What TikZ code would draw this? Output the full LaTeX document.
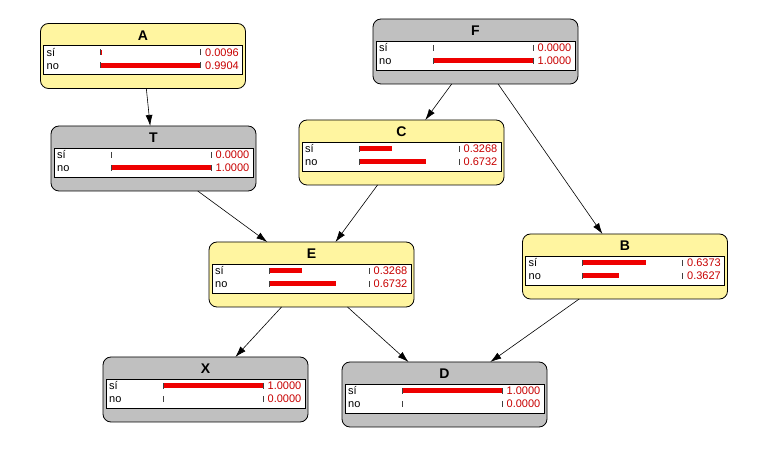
\documentclass[tikz,border=0pt]{standalone}
\usepackage{fontspec}
\setmainfont{Liberation Sans}
\usepackage{tikz}
\usetikzlibrary{arrows.meta}

\definecolor{cptyellow}{RGB}{255,245,160}
\definecolor{cptgray}{RGB}{192,192,192}
\definecolor{cptred}{RGB}{238,0,0}
\definecolor{cptnum}{RGB}{200,0,0}

% one node of the network: name, x, y, fill, title, p(si), p(no)
\newcommand{\cptnode}[7]{%
  \node[cptbox, fill=#4] (#1) at (#2,#3) {};
  \begin{scope}[shift={(#1.north west)}]
    \node[cpttitle] (#1-name) at (102.5,12) {#5};
    \draw[cptpanel] (3,22) rectangle (202,51);
    \node[cptlabel] (#1-si) at (6,29) {sí};
    \node[cptlabel] (#1-no) at (6,42) {no};
    \draw[cptbar] (60,29) -- ++({#6*100},0);
    \draw[cptbar] (60,42) -- ++({#7*100},0);
    \draw[cpttick] (60,26) -- (60,32) (60,39) -- (60,45) (160,26) -- (160,32) (160,39) -- (160,45);
    \node[cptvalue] (#1-vsi) at (164.5,29) {#6};
    \node[cptvalue] (#1-vno) at (164.5,42) {#7};
  \end{scope}}

\begin{document}
\begin{tikzpicture}[x=1pt, y=-1pt,
  cptbox/.style={draw, line width=0.8pt, rounded corners=8pt, minimum width=205pt, minimum height=65pt, inner sep=0pt, outer sep=0pt},
  cpttitle/.style={font=\bfseries\fontsize{14}{16}\selectfont, inner sep=0pt},
  cptpanel/.style={draw, fill=white, line width=0.6pt},
  cptlabel/.style={anchor=west, inner sep=0pt, text height=7.8pt, text depth=0pt, font=\fontsize{11}{13}\selectfont},
  cptvalue/.style={cptlabel, text=cptnum},
  cptbar/.style={cptred, line width=5pt},
  cpttick/.style={black!75, line width=0.9pt},
  edge/.style={-{Latex[length=11pt,width=7pt]}, line width=0.6pt}]
\useasboundingbox (0,0) rectangle (777,470);
% The nodes
\cptnode{A}{143}{56}{cptyellow}{A}{0.0096}{0.9904}
\cptnode{F}{475.5}{51.5}{cptgray}{F}{0.0000}{1.0000}
\cptnode{T}{153.5}{158.5}{cptgray}{T}{0.0000}{1.0000}
\cptnode{C}{401.5}{152.5}{cptyellow}{C}{0.3268}{0.6732}
\cptnode{E}{311.5}{274.5}{cptyellow}{E}{0.3268}{0.6732}
\cptnode{B}{625}{266.5}{cptyellow}{B}{0.6373}{0.3627}
\cptnode{X}{205.5}{389.5}{cptgray}{X}{1.0000}{0.0000}
\cptnode{D}{444.5}{394.5}{cptgray}{D}{1.0000}{0.0000}
% The arcs
\draw[edge] (A) -- (T);
\draw[edge] (F) -- (C);
\draw[edge] (F) -- (B);
\draw[edge] (T) -- (E);
\draw[edge] (C) -- (E);
\draw[edge] (E) -- (X);
\draw[edge] (E) -- (D);
\draw[edge] (B) -- (D);
\end{tikzpicture}
\end{document}
